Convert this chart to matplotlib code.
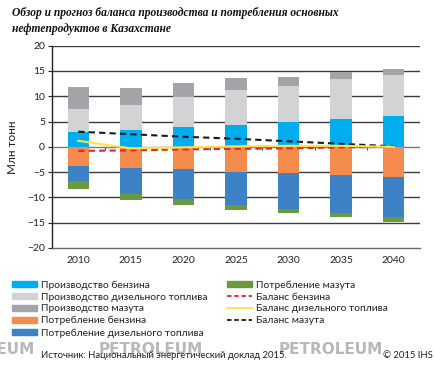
import matplotlib
matplotlib.use("Agg")
import matplotlib.pyplot as plt
import numpy as np
from matplotlib.patches import Patch
from matplotlib.lines import Line2D

years = [2010, 2015, 2020, 2025, 2030, 2035, 2040]
gas_prod = [2.9, 3.3, 3.95, 4.4, 4.9, 5.6, 6.05]
diesel_prod = [4.5, 4.9, 5.95, 6.8, 7.2, 7.9, 8.25]
mazut_prod = [4.4, 3.5, 2.8, 2.5, 1.8, 1.3, 1.1]
gas_cons = [3.75, 4.1, 4.45, 4.9, 5.2, 5.65, 6.0]
diesel_cons = [3.05, 5.25, 5.95, 6.5, 7.0, 7.45, 7.9]
mazut_cons = [1.55, 1.15, 1.0, 1.0, 0.9, 0.8, 0.95]
bal_gas = [-0.8, -0.7, -0.5, -0.4, -0.3, -0.1, 0.0]
bal_diesel = [1.2, -0.3, -0.1, 0.1, 0.2, 0.2, 0.0]
bal_mazut = [3.0, 2.5, 2.0, 1.6, 1.1, 0.6, 0.1]

labels_col1 = ["Производство бензина", "Производство дизельного топлива",
               "Производство мазута", "Потребление бензина",
               "Потребление дизельного топлива"]
labels_col2 = ["Потребление мазута", "Баланс бензина",
               "Баланс дизельного топлива", "Баланс мазута"]
title = "Обзор и прогноз баланса производства и потребления основных\nнефтепродуктов в Казахстане"
ylabel = "Млн тонн"
source = "Источник: Национальный энергетический доклад 2015."
copyright_txt = "© 2015 IHS"
watermark = "PETROLEUM"

c_gp = "#00AEEF"
c_dp = "#D1D3D4"
c_mp = "#A2A4A7"
c_gc = "#F58B4C"
c_dc = "#3C82C4"
c_mc = "#6A9A3D"
c_rb = "#E3262B"
c_yb = "#FFE24A"
c_kb = "#1a1a1a"

plt.rcParams['font.family'] = ['Lato', 'DejaVu Sans']

fig = plt.figure(figsize=(4.34, 3.76), dpi=100)
ax = fig.add_axes([52/434, 1-248/376, (420-52)/434, (248-45.7)/376])

x = np.arange(len(years))
w = 0.41
gp = np.array(gas_prod); dp = np.array(diesel_prod); mp = np.array(mazut_prod)
gc = -np.array(gas_cons); dc = -np.array(diesel_cons); mc = -np.array(mazut_cons)

ax.bar(x, gp, w, color=c_gp, zorder=3)
ax.bar(x, dp, w, bottom=gp, color=c_dp, zorder=3)
ax.bar(x, mp, w, bottom=gp+dp, color=c_mp, zorder=3)
ax.bar(x, gc, w, color=c_gc, zorder=3)
ax.bar(x, dc, w, bottom=gc, color=c_dc, zorder=3)
ax.bar(x, mc, w, bottom=gc+dc, color=c_mc, zorder=3)

ax.plot(x, bal_mazut, color=c_kb, lw=1.5, ls=(0, (3, 2)), zorder=5)
ax.plot(x, bal_gas, color=c_rb, lw=1.5, ls=(0, (3, 2)), zorder=5)
ax.plot(x, bal_diesel, color=c_yb, lw=1.5, zorder=6)

ax.set_ylim(-20, 20)
ax.set_xlim(-0.5, len(years)-0.5)
ax.set_yticks(np.arange(-20, 21, 5))
ax.set_xticks(x)
ax.set_xticklabels([str(y) for y in years])
for yv in np.arange(-15, 21, 5):
    if yv == 0:
        continue
    ax.axhline(yv, color="#3d3d3d", lw=1.0, zorder=1)
ax.axhline(0, color="#7a7a7a", lw=1.0, zorder=2)
bnd = np.arange(len(years)+1) - 0.5
ax.vlines(bnd[1:], -0.6, 0, color="#555555", lw=0.8, zorder=2)

for s in ["top", "right"]:
    ax.spines[s].set_visible(False)
ax.spines["left"].set_color("#222222")
ax.spines["left"].set_linewidth(1.0)
ax.spines["bottom"].set_color("#6a6a6a")
ax.spines["bottom"].set_linewidth(1.0)
ax.tick_params(axis="y", length=3, width=0.8, color="#222222", labelsize=7.5, pad=2, labelcolor="#222222")
ax.tick_params(axis="x", length=0, labelsize=7.5, pad=6, labelcolor="#222222")
ax.set_ylabel(ylabel, fontsize=8.5, color="#222222")
ax.yaxis.set_label_coords((18.5-52)/368, 0.5)

fig.text(12/434, 1-7/376, title, ha="left", va="top", fontsize=8.3,
         family="Liberation Serif", fontweight="bold", fontstyle="italic",
         linespacing=1.4, color="#111111")

h1 = [Patch(color=c_gp), Patch(color=c_dp), Patch(color=c_mp),
      Patch(color=c_gc), Patch(color=c_dc)]
h2 = [Patch(color=c_mc), Line2D([], [], color=c_rb, lw=1.3, ls=(0, (2.5, 1.5))),
      Line2D([], [], color=c_yb, lw=1.3), Line2D([], [], color=c_kb, lw=1.3, ls=(0, (2.5, 1.5)))]
kw = dict(frameon=False, fontsize=7.4, handlelength=2.4, handleheight=0.5,
          handletextpad=0.4, labelspacing=0.27, borderpad=0, borderaxespad=0,
          loc="upper left")
leg1 = fig.legend(h1, labels_col1, bbox_to_anchor=(12/434, 1-280.5/376), **kw)
leg2 = fig.legend(h2, labels_col2, bbox_to_anchor=(227/434, 1-280.5/376), **kw)
for lg in (leg1, leg2):
    for t in lg.get_texts():
        t.set_color("#222222")

for xr in [35, 203, 383]:
    fig.text(xr/434, 1-350/376, watermark, ha="right", va="center",
             fontsize=11, fontweight="bold", color="#b8b8b8", family="DejaVu Sans", zorder=0)
fig.text(41/434, 1-356/376, source, ha="left", va="center", fontsize=6.85, color="#222222")
fig.text(433/434, 1-356/376, copyright_txt, ha="right", va="center", fontsize=6.85, color="#222222")

fig.savefig("out.png", dpi=100)
